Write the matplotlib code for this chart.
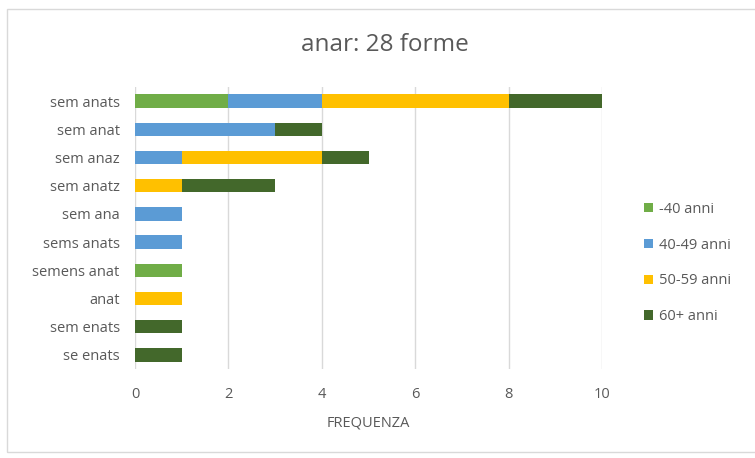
import matplotlib
matplotlib.use("Agg")
import matplotlib.pyplot as plt
from matplotlib.patches import Rectangle, Patch

categories = ["sem anats", "sem anat", "sem anaz", "sem anatz", "sem ana",
              "sems anats", "semens anat", "anat", "sem enats", "se enats"]
series_names = ["-40 anni", "40-49 anni", "50-59 anni", "60+ anni"]
v_u40 = [2, 0, 0, 0, 0, 0, 1, 0, 0, 0]
v_40_49 = [2, 3, 1, 0, 1, 1, 0, 0, 0, 0]
v_50_59 = [4, 0, 3, 1, 0, 0, 0, 1, 0, 0]
v_60p = [2, 1, 1, 2, 0, 0, 0, 0, 1, 1]
colors = ["#70AD47", "#5B9BD5", "#FFC000", "#43682B"]
xticks = [0, 2, 4, 6, 8, 10]

plt.rcParams['font.family'] = ['Open Sans', 'DejaVu Sans']
txt = "#595959"
fs = 10.5

fig = plt.figure(figsize=(7.55, 4.58), dpi=100)
fig.patches.append(Rectangle((7/755, 1-452/458), 1, (452-9)/458, transform=fig.transFigure,
                             fill=False, edgecolor="#d9d9d9", linewidth=1))
ax = fig.add_axes([135/755, 1-369/458, (602-135)/755, (369-87)/458])

ypos = list(range(len(categories)))
left = [0]*len(categories)
for name, vals, c in zip(series_names, [v_u40, v_40_49, v_50_59, v_60p], colors):
    ax.barh(ypos, vals, left=left, color=c, height=0.47, label=name, zorder=3)
    left = [a+b for a, b in zip(left, vals)]

ax.set_ylim(len(categories)-0.5, -0.5)
ax.set_xlim(0, 10)
ax.set_yticks(ypos)
ax.set_yticklabels(categories, fontsize=fs, color=txt)
ax.set_xticks(xticks)
ax.set_xticklabels([str(t) for t in xticks], fontsize=fs, color=txt)
ax.tick_params(axis='both', length=0)
ax.tick_params(axis='y', pad=11)
ax.tick_params(axis='x', pad=13)
ax.grid(axis='x', color="#d9d9d9", linewidth=1, zorder=0)
for s in ax.spines.values():
    s.set_visible(False)
ax.set_xlabel("FREQUENZA", fontsize=fs, color=txt, labelpad=10)

fig.text(385/755, 1-45/458, "anar: 28 forme", ha='center', va='center', fontsize=17.5, color=txt)

handles = [Patch(facecolor=c) for c in colors]
fig.legend(handles, series_names, loc='center left', bbox_to_anchor=(631/755, 1-263/458),
           frameon=False, fontsize=fs, labelcolor=txt, handlelength=0.6, handleheight=0.6,
           handletextpad=0.4, labelspacing=1.42)

fig.savefig("out.png", dpi=100)
